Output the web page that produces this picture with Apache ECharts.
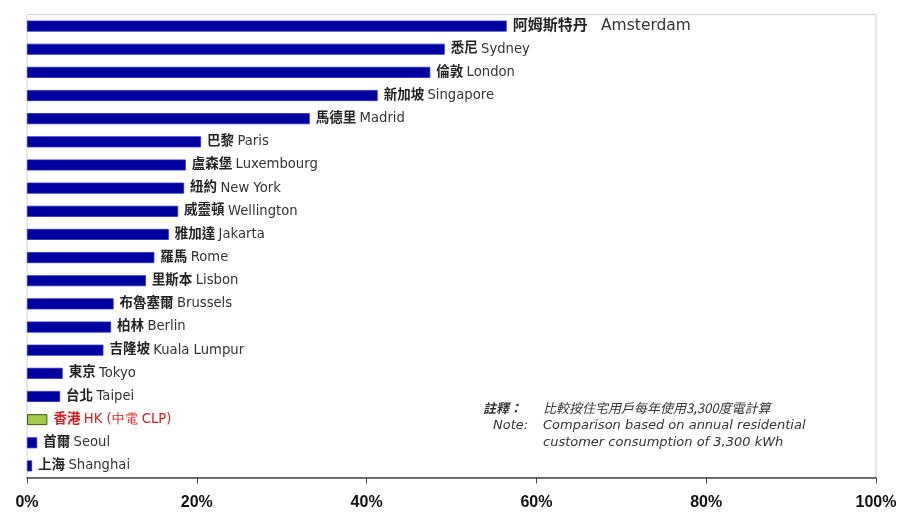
<!DOCTYPE html>
<html><head><meta charset="utf-8">
<script src="https://cdn.jsdelivr.net/npm/echarts@6/dist/echarts.min.js"></script>
<style>html,body{margin:0;padding:0;background:#fff}#c{width:900px;height:515px}</style>
</head><body><div id="c"></div>
<script>
const cnNames = ['阿姆斯特丹','悉尼','倫敦','新加坡','馬德里','巴黎','盧森堡','紐約','威靈頓','雅加達','羅馬','里斯本','布魯塞爾','柏林','吉隆坡','東京','台北','香港','首爾','上海'];
const enNames = ['Amsterdam','Sydney','London','Singapore','Madrid','Paris','Luxembourg','New York','Wellington','Jakarta','Rome','Lisbon','Brussels','Berlin','Kuala Lumpur','Tokyo','Taipei','HK (中電 CLP)','Seoul','Shanghai'];
const values = [56.5,49.2,47.5,41.3,33.3,20.5,18.7,18.5,17.8,16.7,15.0,14.0,10.2,9.9,9.0,4.2,3.9,2.4,1.2,0.6];
const highlightIndex = 17;
const xTicks = [0,20,40,60,80,100];
const noteCn = '註釋：';
const noteCnText = '比較按住宅用戶每年使用3,300度電計算';
const noteEn = 'Note:';
const noteEnLines = ['Comparison based on annual residential','customer consumption of 3,300 kWh'];

const chart = echarts.init(document.getElementById('c'));
const data = values.map((v,i)=>{
  const hl = i===highlightIndex;
  const big = i===0;
  return {
    value: v,
    itemStyle: hl ? {color:'#a3c94a', borderColor:'#3d5a10', borderWidth:1} : {color:'#0000a0', borderColor:'#2a2ab8', borderWidth:0.8},
    label: {
      formatter: '{c|' + cnNames[i] + '}' + (big ? '    ' : ' ') + '{e|' + enNames[i] + '}',
      rich: {
        c: {fontFamily:'Noto Sans CJK TC', fontWeight:'bold', fontSize: big ? 15 : 13.5, lineHeight:18, verticalAlign:'middle', padding:[0,0,4,0], color: hl ? '#d42020' : '#222'},
        e: {fontFamily:'DejaVu Sans', fontSize: big ? 15.5 : 13.2, lineHeight:18, verticalAlign:'middle', color: hl ? '#d42020' : '#333'}
      }
    }
  };
});
chart.setOption({
  animation:false,
  backgroundColor:'#fff',
  grid:{left:27,right:24,top:14.5,bottom:37.5,show:true,borderColor:'#d4d4d4',borderWidth:1},
  xAxis:{type:'value',min:0,max:100,interval:20,
    axisLine:{show:true,lineStyle:{color:'#444',width:1.5}},
    axisTick:{show:true,length:6,inside:false,lineStyle:{color:'#444',width:1}},
    splitLine:{show:false},
    axisLabel:{margin:17,fontFamily:'Liberation Sans',fontWeight:'bold',fontSize:16,color:'#111',
      formatter:v=> xTicks.includes(v) ? v+'%' : ''}
  },
  yAxis:{type:'category',inverse:true,data:enNames,
    axisLine:{show:false},axisTick:{show:false},axisLabel:{show:false}},
  series:[{type:'bar',data:data,barWidth:11,
    label:{show:true,position:'right',distance:6}}],
  graphic:[
    {type:'text',left:483,top:402,style:{text:noteCn,font:'italic bold 13px "Noto Sans CJK TC"',fill:'#333'}},
    {type:'text',left:543,top:402,style:{text:noteCnText,font:'italic 13px "Noto Sans CJK TC"',fill:'#333'}},
    {type:'text',left:493,top:419,style:{text:noteEn,font:'italic 13px "DejaVu Sans"',fill:'#333'}},
    {type:'text',left:543,top:419,style:{text:noteEnLines[0],font:'italic 13px "DejaVu Sans"',fill:'#333'}},
    {type:'text',left:543,top:436,style:{text:noteEnLines[1],font:'italic 13px "DejaVu Sans"',fill:'#333'}}
  ]
});
</script></body></html>
